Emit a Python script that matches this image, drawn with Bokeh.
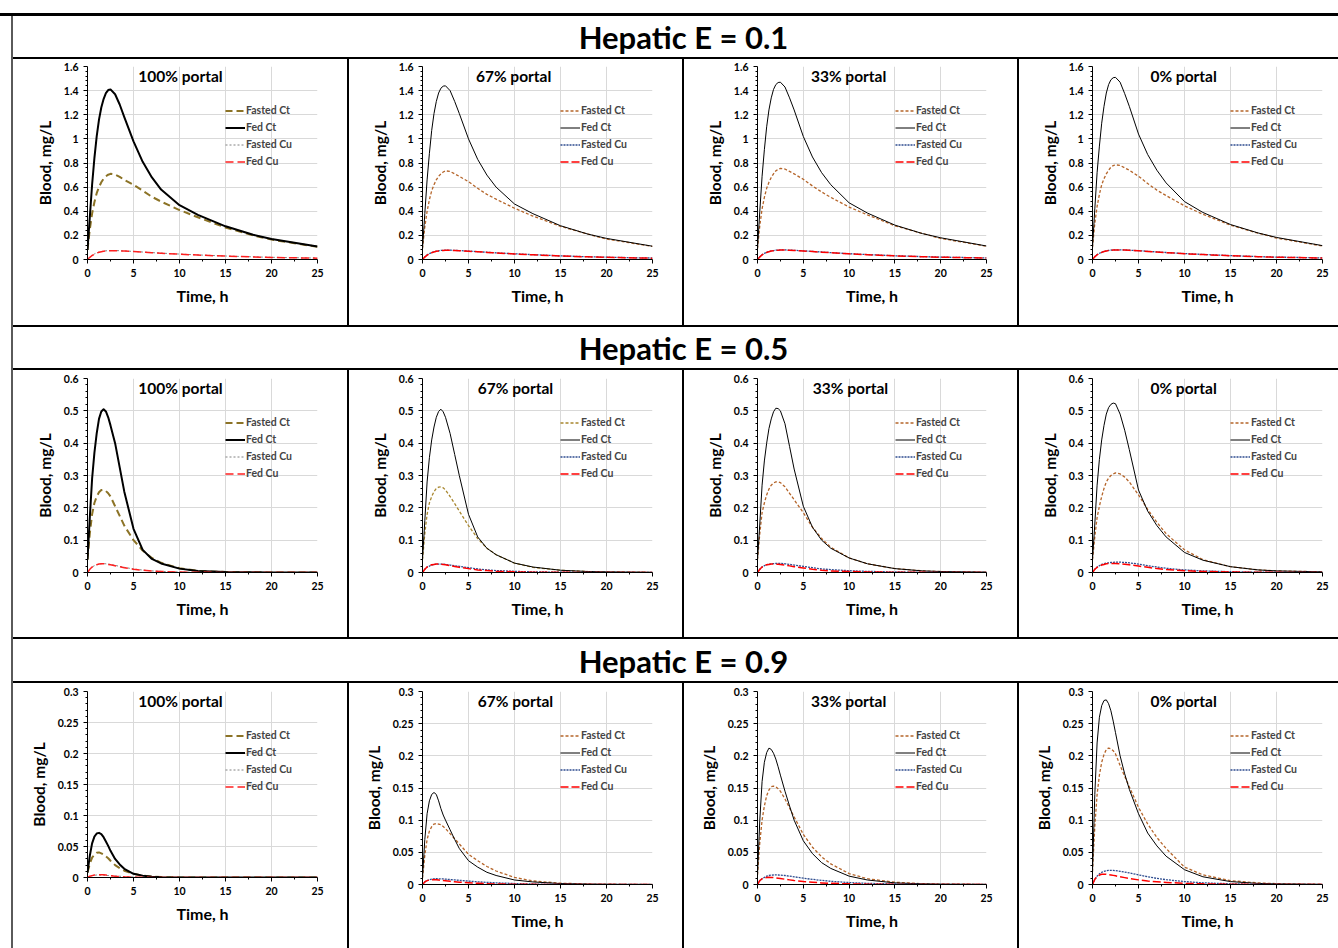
from bokeh.plotting import figure
from bokeh.layouts import row, column
from bokeh.models import (Range1d, FixedTicker, NumeralTickFormatter, Label, Div,
                          Spacer, BoxAnnotation)
from bokeh.embed import file_html
from bokeh.resources import INLINE

FONT = "Lato"

# ---------------- data ----------------
time_h = [0, 0.25, 0.5, 0.75, 1, 1.25, 1.5, 1.75, 2, 2.25, 2.5, 3, 3.5, 4,
          5, 6, 7, 8, 10, 12, 15, 18, 20, 25]

# Hepatic E = 0.1
e01_p100_fasted_ct = [0.08, 0.25, 0.38, 0.475, 0.55, 0.60, 0.64, 0.67, 0.69, 0.703, 0.71, 0.705, 0.685, 0.66,
                      0.62, 0.57, 0.52, 0.48, 0.41, 0.35, 0.265, 0.20, 0.165, 0.105]
e01_p100_fed_ct = [0.08, 0.35, 0.62, 0.84, 1.02, 1.16, 1.26, 1.33, 1.38, 1.405, 1.41, 1.37, 1.285, 1.18,
                   0.98, 0.81, 0.68, 0.58, 0.45, 0.37, 0.275, 0.205, 0.17, 0.107]
e01_p100_fasted_cu = [0, 0.02, 0.035, 0.046, 0.055, 0.061, 0.066, 0.069, 0.072, 0.073, 0.074, 0.074, 0.073, 0.071,
                      0.067, 0.062, 0.057, 0.053, 0.045, 0.038, 0.029, 0.022, 0.018, 0.012]
e01_p100_fed_cu = [0, 0.018, 0.033, 0.044, 0.053, 0.06, 0.065, 0.068, 0.071, 0.072, 0.073, 0.073, 0.072, 0.070,
                   0.066, 0.061, 0.056, 0.052, 0.044, 0.037, 0.028, 0.021, 0.017, 0.011]

e01_p67_fasted_ct = [0.09, 0.27, 0.40, 0.495, 0.57, 0.62, 0.66, 0.69, 0.71, 0.725, 0.735, 0.73, 0.71, 0.69,
                     0.645, 0.59, 0.54, 0.50, 0.425, 0.36, 0.275, 0.21, 0.17, 0.108]
e01_p67_fed_ct = [0.09, 0.38, 0.66, 0.88, 1.07, 1.21, 1.31, 1.38, 1.42, 1.437, 1.44, 1.40, 1.31, 1.21,
                  1.00, 0.83, 0.70, 0.60, 0.46, 0.38, 0.28, 0.21, 0.175, 0.11]
e01_p67_fasted_cu = [0, 0.022, 0.038, 0.049, 0.058, 0.064, 0.069, 0.072, 0.075, 0.076, 0.077, 0.077, 0.076, 0.074,
                     0.070, 0.065, 0.060, 0.055, 0.047, 0.040, 0.030, 0.023, 0.019, 0.012]
e01_p67_fed_cu = [0, 0.020, 0.036, 0.047, 0.056, 0.063, 0.068, 0.071, 0.074, 0.075, 0.076, 0.076, 0.075, 0.073,
                  0.069, 0.064, 0.059, 0.054, 0.046, 0.039, 0.029, 0.022, 0.018, 0.011]

e01_p33_fasted_ct = [0.09, 0.28, 0.42, 0.515, 0.59, 0.64, 0.68, 0.71, 0.735, 0.748, 0.755, 0.75, 0.73, 0.71,
                     0.665, 0.61, 0.56, 0.515, 0.435, 0.37, 0.28, 0.215, 0.175, 0.11]
e01_p33_fed_ct = [0.09, 0.40, 0.69, 0.91, 1.10, 1.24, 1.34, 1.41, 1.45, 1.467, 1.47, 1.43, 1.34, 1.24,
                  1.02, 0.85, 0.72, 0.62, 0.47, 0.385, 0.285, 0.215, 0.18, 0.112]
e01_p33_fasted_cu = [0, 0.023, 0.040, 0.051, 0.060, 0.066, 0.071, 0.074, 0.077, 0.078, 0.079, 0.079, 0.078, 0.076,
                     0.072, 0.067, 0.062, 0.057, 0.048, 0.041, 0.031, 0.024, 0.020, 0.013]
e01_p33_fed_cu = [0, 0.021, 0.038, 0.049, 0.058, 0.065, 0.070, 0.073, 0.076, 0.077, 0.078, 0.078, 0.077, 0.075,
                  0.071, 0.066, 0.061, 0.056, 0.047, 0.040, 0.030, 0.023, 0.019, 0.012]

e01_p0_fasted_ct = [0.10, 0.30, 0.44, 0.54, 0.62, 0.67, 0.71, 0.74, 0.765, 0.778, 0.785, 0.78, 0.76, 0.74,
                    0.69, 0.63, 0.575, 0.53, 0.445, 0.375, 0.285, 0.218, 0.178, 0.112]
e01_p0_fed_ct = [0.10, 0.42, 0.72, 0.94, 1.13, 1.27, 1.38, 1.45, 1.49, 1.507, 1.51, 1.47, 1.375, 1.27,
                 1.04, 0.87, 0.74, 0.635, 0.48, 0.39, 0.29, 0.22, 0.183, 0.115]
e01_p0_fasted_cu = [0, 0.024, 0.041, 0.052, 0.061, 0.067, 0.072, 0.075, 0.078, 0.079, 0.080, 0.080, 0.079, 0.077,
                    0.073, 0.068, 0.063, 0.058, 0.049, 0.042, 0.032, 0.024, 0.020, 0.013]
e01_p0_fed_cu = [0, 0.022, 0.039, 0.050, 0.059, 0.066, 0.071, 0.074, 0.077, 0.078, 0.079, 0.079, 0.078, 0.076,
                 0.072, 0.067, 0.062, 0.057, 0.048, 0.041, 0.031, 0.023, 0.019, 0.012]

# Hepatic E = 0.5
e05_p100_fasted_ct = [0.04, 0.12, 0.18, 0.215, 0.235, 0.248, 0.255, 0.256, 0.252, 0.245, 0.235, 0.205, 0.175, 0.145,
                      0.10, 0.068, 0.045, 0.030, 0.013, 0.005, 0.0015, 0.0005, 0.0003, 0.0001]
e05_p100_fed_ct = [0.04, 0.17, 0.29, 0.37, 0.43, 0.475, 0.498, 0.505, 0.498, 0.48, 0.455, 0.40, 0.325, 0.25,
                   0.135, 0.07, 0.042, 0.028, 0.012, 0.005, 0.0015, 0.0005, 0.0003, 0.0001]
e05_p100_fasted_cu = [0, 0.010, 0.017, 0.021, 0.024, 0.026, 0.027, 0.0272, 0.027, 0.026, 0.025, 0.022, 0.019, 0.016,
                      0.011, 0.0075, 0.005, 0.0035, 0.0015, 0.0007, 0.0002, 0.0001, 0, 0]
e05_p100_fed_cu = [0, 0.010, 0.017, 0.021, 0.024, 0.026, 0.027, 0.027, 0.026, 0.025, 0.024, 0.021, 0.018, 0.015,
                   0.010, 0.007, 0.0045, 0.003, 0.0013, 0.0006, 0.0002, 0.0001, 0, 0]

e05_p67_fasted_ct = [0.04, 0.12, 0.18, 0.215, 0.235, 0.25, 0.26, 0.264, 0.265, 0.262, 0.255, 0.235, 0.213, 0.19,
                     0.145, 0.105, 0.075, 0.055, 0.029, 0.016, 0.007, 0.003, 0.002, 0.0005]
e05_p67_fed_ct = [0.04, 0.16, 0.28, 0.355, 0.41, 0.45, 0.48, 0.498, 0.505, 0.497, 0.48, 0.43, 0.365, 0.30,
                  0.18, 0.11, 0.075, 0.055, 0.029, 0.017, 0.007, 0.003, 0.002, 0.0005]
e05_p67_fasted_cu = [0, 0.010, 0.017, 0.020, 0.023, 0.025, 0.026, 0.026, 0.026, 0.0255, 0.025, 0.023, 0.021, 0.019,
                     0.015, 0.011, 0.008, 0.006, 0.0035, 0.002, 0.001, 0.0004, 0.0002, 0]
e05_p67_fed_cu = [0, 0.010, 0.017, 0.021, 0.024, 0.025, 0.026, 0.026, 0.026, 0.025, 0.024, 0.021, 0.0185, 0.016,
                  0.012, 0.008, 0.006, 0.004, 0.002, 0.001, 0.0005, 0.0002, 0.0001, 0]

e05_p33_fasted_ct = [0.04, 0.12, 0.185, 0.215, 0.24, 0.258, 0.27, 0.277, 0.28, 0.28, 0.278, 0.265, 0.245, 0.225,
                     0.185, 0.14, 0.105, 0.078, 0.045, 0.027, 0.012, 0.005, 0.003, 0.001]
e05_p33_fed_ct = [0.04, 0.15, 0.27, 0.345, 0.40, 0.445, 0.475, 0.497, 0.508, 0.507, 0.50, 0.46, 0.39, 0.32,
                  0.205, 0.14, 0.10, 0.075, 0.045, 0.027, 0.012, 0.005, 0.003, 0.001]
e05_p33_fasted_cu = [0, 0.010, 0.017, 0.021, 0.024, 0.026, 0.027, 0.0275, 0.028, 0.028, 0.028, 0.027, 0.025, 0.023,
                     0.019, 0.015, 0.011, 0.009, 0.0055, 0.0035, 0.0018, 0.0009, 0.0006, 0.0002]
e05_p33_fed_cu = [0, 0.010, 0.017, 0.021, 0.024, 0.025, 0.026, 0.026, 0.026, 0.0255, 0.025, 0.023, 0.0205, 0.018,
                  0.014, 0.010, 0.007, 0.005, 0.003, 0.0018, 0.0008, 0.0004, 0.0002, 0]

e05_p0_fasted_ct = [0.04, 0.11, 0.17, 0.205, 0.235, 0.26, 0.28, 0.292, 0.30, 0.305, 0.308, 0.305, 0.295, 0.28,
                    0.24, 0.195, 0.155, 0.12, 0.07, 0.04, 0.018, 0.008, 0.005, 0.002]
e05_p0_fed_ct = [0.04, 0.15, 0.27, 0.35, 0.41, 0.455, 0.49, 0.51, 0.52, 0.524, 0.522, 0.49, 0.44, 0.38,
                 0.255, 0.19, 0.145, 0.11, 0.062, 0.038, 0.018, 0.008, 0.005, 0.002]
e05_p0_fasted_cu = [0, 0.010, 0.017, 0.021, 0.025, 0.027, 0.029, 0.030, 0.031, 0.0315, 0.032, 0.032, 0.031, 0.030,
                    0.026, 0.021, 0.017, 0.013, 0.008, 0.005, 0.0025, 0.0012, 0.0008, 0.0003]
e05_p0_fed_cu = [0, 0.010, 0.016, 0.020, 0.023, 0.025, 0.027, 0.0275, 0.028, 0.028, 0.028, 0.027, 0.0255, 0.024,
                 0.020, 0.016, 0.012, 0.009, 0.0055, 0.0033, 0.0015, 0.0007, 0.0004, 0.0001]

# Hepatic E = 0.9
e09_p100_fasted_ct = [0.008, 0.022, 0.032, 0.037, 0.040, 0.0405, 0.039, 0.037, 0.034, 0.031, 0.027, 0.020, 0.015, 0.011,
                      0.006, 0.003, 0.0015, 0.0007, 0.0002, 0, 0, 0, 0, 0]
e09_p100_fed_ct = [0.008, 0.035, 0.055, 0.066, 0.071, 0.072, 0.070, 0.065, 0.058, 0.051, 0.043, 0.030, 0.021, 0.014,
                   0.006, 0.003, 0.0013, 0.0006, 0.0001, 0, 0, 0, 0, 0]
e09_p100_fasted_cu = [0, 0.002, 0.003, 0.0036, 0.004, 0.004, 0.004, 0.0038, 0.0035, 0.0032, 0.003, 0.0025, 0.002, 0.0015,
                      0.0008, 0.0004, 0.0002, 0.0001, 0, 0, 0, 0, 0, 0]
e09_p100_fed_cu = [0, 0.002, 0.003, 0.004, 0.0045, 0.0046, 0.0045, 0.0043, 0.004, 0.0035, 0.003, 0.0022, 0.0017, 0.0012,
                   0.0006, 0.0003, 0.0001, 0, 0, 0, 0, 0, 0, 0]

e09_p67_fasted_ct = [0.01, 0.045, 0.07, 0.083, 0.09, 0.094, 0.095, 0.094, 0.093, 0.09, 0.087, 0.079, 0.071, 0.063,
                     0.047, 0.037, 0.028, 0.021, 0.011, 0.0055, 0.002, 0.0008, 0.0004, 0.0001]
e09_p67_fed_ct = [0.01, 0.07, 0.11, 0.13, 0.14, 0.143, 0.14, 0.13, 0.118, 0.108, 0.10, 0.085, 0.07, 0.056,
                  0.037, 0.027, 0.019, 0.014, 0.007, 0.004, 0.0015, 0.0006, 0.0003, 0]
e09_p67_fasted_cu = [0, 0.004, 0.006, 0.0075, 0.0085, 0.0089, 0.009, 0.0089, 0.0088, 0.0086, 0.0083, 0.0077, 0.0071, 0.0065,
                     0.0053, 0.0042, 0.0033, 0.0026, 0.0015, 0.0008, 0.0003, 0.0001, 0, 0]
e09_p67_fed_cu = [0, 0.004, 0.006, 0.007, 0.0075, 0.0075, 0.0072, 0.0069, 0.0065, 0.0061, 0.0057, 0.0049, 0.0042, 0.0036,
                  0.0026, 0.0018, 0.0012, 0.0008, 0.0004, 0.0002, 0, 0, 0, 0]

e09_p33_fasted_ct = [0.015, 0.065, 0.10, 0.122, 0.138, 0.147, 0.152, 0.153, 0.152, 0.149, 0.145, 0.133, 0.119, 0.105,
                     0.078, 0.058, 0.043, 0.032, 0.017, 0.009, 0.0035, 0.0013, 0.0007, 0.0002]
e09_p33_fed_ct = [0.015, 0.10, 0.16, 0.19, 0.205, 0.212, 0.21, 0.204, 0.195, 0.183, 0.17, 0.145, 0.122, 0.10,
                  0.068, 0.048, 0.034, 0.025, 0.013, 0.007, 0.0025, 0.001, 0.0005, 0.0001]
e09_p33_fasted_cu = [0, 0.006, 0.009, 0.011, 0.013, 0.014, 0.0145, 0.0148, 0.015, 0.0148, 0.0145, 0.014, 0.013, 0.012,
                     0.0098, 0.008, 0.0064, 0.005, 0.003, 0.0018, 0.0008, 0.0003, 0.0002, 0]
e09_p33_fed_cu = [0, 0.006, 0.009, 0.0103, 0.011, 0.0112, 0.011, 0.0107, 0.0103, 0.0098, 0.0093, 0.0082, 0.0072, 0.0062,
                  0.0046, 0.0034, 0.0025, 0.0018, 0.001, 0.0005, 0.0002, 0, 0, 0]

e09_p0_fasted_ct = [0.02, 0.09, 0.14, 0.17, 0.19, 0.202, 0.21, 0.212, 0.211, 0.208, 0.203, 0.185, 0.168, 0.152,
                    0.12, 0.094, 0.073, 0.056, 0.027, 0.015, 0.006, 0.0025, 0.0013, 0.0003]
e09_p0_fed_ct = [0.02, 0.14, 0.22, 0.26, 0.278, 0.286, 0.287, 0.281, 0.27, 0.254, 0.236, 0.20, 0.172, 0.148,
                 0.11, 0.08, 0.06, 0.044, 0.023, 0.012, 0.0045, 0.0017, 0.0009, 0.0002]
e09_p0_fasted_cu = [0, 0.008, 0.013, 0.0165, 0.019, 0.0205, 0.0215, 0.022, 0.022, 0.022, 0.0215, 0.0205, 0.0193, 0.018,
                    0.015, 0.012, 0.0095, 0.0075, 0.0045, 0.0026, 0.0011, 0.0004, 0.0002, 0]
e09_p0_fed_cu = [0, 0.008, 0.012, 0.0145, 0.016, 0.0161, 0.0158, 0.0153, 0.0148, 0.0142, 0.0135, 0.012, 0.0107, 0.0095,
                 0.0072, 0.0055, 0.0042, 0.0032, 0.0018, 0.001, 0.0004, 0.0001, 0, 0]

hepatic_titles = ["Hepatic E = 0.1", "Hepatic E = 0.5", "Hepatic E = 0.9"]
portal_titles = [
    ["100% portal", "67%  portal", "33%  portal", "0%  portal"],
    ["100% portal", "67% portal", "33% portal", "0%  portal"],
    ["100% portal", "67% portal", "33%  portal", "0%  portal"],
]
series_names = ["Fasted Ct", "Fed Ct", "Fasted Cu", "Fed Cu"]
y_ticks = [
    [0, 0.2, 0.4, 0.6, 0.8, 1.0, 1.2, 1.4, 1.6],
    [0, 0.1, 0.2, 0.3, 0.4, 0.5, 0.6],
    [0, 0.05, 0.1, 0.15, 0.2, 0.25, 0.3],
]
x_ticks = [0, 5, 10, 15, 20, 25]

panels = [
    [(e01_p100_fasted_ct, e01_p100_fed_ct, e01_p100_fasted_cu, e01_p100_fed_cu),
     (e01_p67_fasted_ct, e01_p67_fed_ct, e01_p67_fasted_cu, e01_p67_fed_cu),
     (e01_p33_fasted_ct, e01_p33_fed_ct, e01_p33_fasted_cu, e01_p33_fed_cu),
     (e01_p0_fasted_ct, e01_p0_fed_ct, e01_p0_fasted_cu, e01_p0_fed_cu)],
    [(e05_p100_fasted_ct, e05_p100_fed_ct, e05_p100_fasted_cu, e05_p100_fed_cu),
     (e05_p67_fasted_ct, e05_p67_fed_ct, e05_p67_fasted_cu, e05_p67_fed_cu),
     (e05_p33_fasted_ct, e05_p33_fed_ct, e05_p33_fasted_cu, e05_p33_fed_cu),
     (e05_p0_fasted_ct, e05_p0_fed_ct, e05_p0_fasted_cu, e05_p0_fed_cu)],
    [(e09_p100_fasted_ct, e09_p100_fed_ct, e09_p100_fasted_cu, e09_p100_fed_cu),
     (e09_p67_fasted_ct, e09_p67_fed_ct, e09_p67_fasted_cu, e09_p67_fed_cu),
     (e09_p33_fasted_ct, e09_p33_fed_ct, e09_p33_fasted_cu, e09_p33_fed_cu),
     (e09_p0_fasted_ct, e09_p0_fed_ct, e09_p0_fasted_cu, e09_p0_fed_cu)],
]

# ---------------- styles / geometry ----------------
col_w = [334, 333, 333, 319]
col_left = [74, 73, 73, 73]
col_frame_w = [230, 230, 229, 230]
row_h = [266, 267, 265]
row_top = [7, 8, 8]
frame_h = [[193, 193, 193, 193], [194, 194, 194, 194], [186, 193, 193, 193]]
area_right = [319, 316, 326, 316]

style_first = [
    dict(color="#8C7326", dash="7 4", width=2.0),
    dict(color="#000000", dash="solid", width=2.0),
    dict(color="#808080", dash="2 2", width=1.0),
    dict(color="#FF2020", dash="8 4", width=1.5),
]
style_other = [
    dict(color="#B5652A", dash="3 2", width=1.3),
    dict(color="#000000", dash="solid", width=1.0),
    dict(color="#2E4C8F", dash="2 1", width=1.3),
    dict(color="#FF0000", dash="8 3", width=1.5),
]


def minor_list(ticks, n):
    out = []
    for a, b in zip(ticks[:-1], ticks[1:]):
        for k in range(1, n):
            out.append(a + (b - a) * k / n)
    return out


def make_cell(r, c):
    w, h = col_w[c], row_h[r]
    fh = frame_h[r][c]
    left, top = col_left[c], row_top[r]
    right = w - left - col_frame_w[c]
    bottom = h - top - fh
    yt = y_ticks[r]
    p = figure(width=w, height=h, output_backend="svg", toolbar_location=None,
               x_range=Range1d(x_ticks[0], x_ticks[-1]), y_range=Range1d(yt[0], yt[-1]),
               min_border_left=left, min_border_right=right,
               min_border_top=top, min_border_bottom=bottom)
    p.background_fill_color = "white"
    p.border_fill_color = "white"
    p.outline_line_color = None

    # chart area border (light grey, like the spreadsheet chart area)
    p.add_layout(BoxAnnotation(left=15, right=area_right[c], top=1,
                               bottom=(259 if (r == 2 and c == 0) else h - 2),
                               left_units="canvas", right_units="canvas",
                               top_units="canvas", bottom_units="canvas",
                               fill_alpha=0, line_color="#D9D9D9", line_width=1))

    styles = style_first if c == 0 else style_other
    for name, ys, st in zip(series_names, panels[r][c], styles):
        col = st["color"]
        if r == 1 and c == 1 and name == "Fasted Ct":
            col = "#A8862E"
        p.line(time_h, ys, line_color=col, line_dash=st["dash"], line_width=st["width"],
               legend_label=name, line_join="round")

    p.xaxis.ticker = FixedTicker(ticks=x_ticks, minor_ticks=minor_list(x_ticks, 2))
    p.yaxis.ticker = FixedTicker(ticks=yt, minor_ticks=minor_list(yt, 5))
    p.yaxis.formatter = NumeralTickFormatter(format="0.[00]")
    p.xaxis.axis_label = "Time, h"
    p.yaxis.axis_label = "Blood, mg/L"
    for ax in (p.xaxis, p.yaxis):
        ax.axis_line_color = "black"
        ax.axis_line_width = 1
        ax.major_tick_line_color = "black"
        ax.minor_tick_line_color = "black"
        ax.major_tick_out = 4
        ax.major_tick_in = 0
        ax.minor_tick_out = 2
        ax.minor_tick_in = 0
        ax.major_label_text_font = FONT
        ax.major_label_text_font_style = "bold"
        ax.major_label_text_font_size = "10.5px"
        ax.major_label_text_color = "black"
        ax.axis_label_text_font = FONT
        ax.axis_label_text_font_style = "bold"
        ax.axis_label_text_color = "black"
    p.xaxis.axis_label_text_font_size = "16px"
    p.yaxis.axis_label_text_font_size = "15.5px"
    p.xaxis.major_label_standoff = 5
    p.yaxis.major_label_standoff = 5
    p.xaxis.axis_label_standoff = 6
    p.yaxis.axis_label_standoff = 7

    p.xgrid.grid_line_color = "#D9D9D9"
    p.ygrid.grid_line_color = "#D9D9D9"

    lg = p.legend[0]
    lg.location = (138, fh - 35.5 - 68)
    lg.margin = 0
    lg.padding = 0
    lg.spacing = 0
    lg.glyph_width = 20
    lg.glyph_height = 17
    lg.label_height = 17
    lg.label_standoff = 1
    lg.label_text_font = FONT
    lg.label_text_font_style = "bold"
    lg.label_text_font_size = "10.5px"
    lg.background_fill_alpha = 0
    lg.border_line_color = None

    p.add_layout(Label(x=93, y=yt[-1], x_units="screen", y_units="data", y_offset=-9,
                       text=portal_titles[r][c], text_align="center", text_baseline="middle",
                       text_font=FONT, text_font_style="bold", text_font_size="15.5px",
                       text_color="black"))
    return p


def make_header(text, h):
    p = figure(width=1325, height=h, output_backend="svg", toolbar_location=None,
               x_range=Range1d(0, 1), y_range=Range1d(0, 1),
               min_border=0)
    p.axis.visible = False
    p.grid.visible = False
    p.outline_line_color = None
    p.add_layout(Label(x=670, y=h / 2, x_units="screen", y_units="screen", text=text,
                       text_align="center", text_baseline="middle", text_font=FONT,
                       text_font_style="bold", text_font_size="31px", text_color="black"))
    return p


def bar(width, height, color="black"):
    return Div(width=width, height=height, margin=0,
               styles={"background-color": color})


header_h = [41, 41, 42]
body = []
for r in range(3):
    body.append(make_header(hepatic_titles[r], header_h[r]))
    body.append(bar(1325, 2))
    cells = []
    for c in range(4):
        cells.append(column([make_cell(r, c)], spacing=0, margin=0))
        if c < 3:
            cells.append(bar(2, row_h[r]))
    body.append(row(cells, spacing=0, margin=0))
    if r < 2:
        body.append(bar(1325, 2))

total_body_h = sum(header_h) + sum(row_h) + 2 * 5
layout = column(
    Spacer(width=1338, height=13, margin=0),
    bar(1338, 3),
    row(Spacer(width=11, height=total_body_h, margin=0),
        bar(2, total_body_h, "#5A5A5A"),
        column(body, spacing=0, margin=0), spacing=0, margin=0),
    spacing=0, margin=0,
)

open("out.html", "w").write(file_html(layout, INLINE))
